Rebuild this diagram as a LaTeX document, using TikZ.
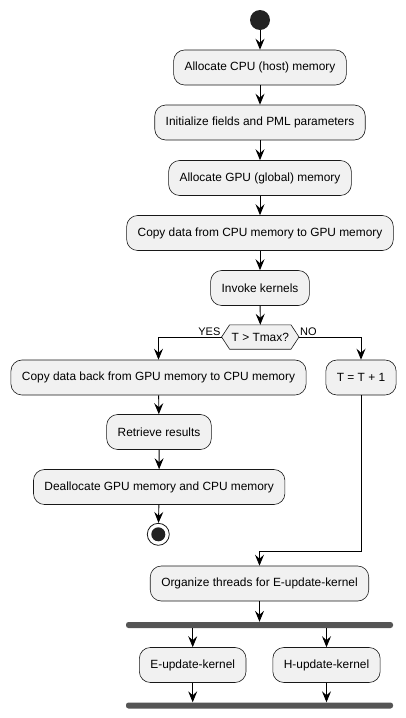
\documentclass[tikz,border=0pt]{standalone}
\usepackage{fontspec}
\setmainfont{Liberation Sans}
\usetikzlibrary{arrows.meta}
\definecolor{boxfill}{HTML}{F1F1F1}
\definecolor{boxline}{HTML}{181818}
\definecolor{barfill}{HTML}{555555}
\definecolor{dotfill}{HTML}{222222}
\begin{document}
\begin{tikzpicture}[x=1pt,y=-1pt,
  act/.style={draw=boxline,fill=boxfill,rounded corners=11pt,line width=0.6pt,
    minimum height=35pt,inner xsep=11pt,font=\fontsize{11.9}{14}\selectfont},
  dec/.style={minimum width=77pt,minimum height=24pt,inner sep=0pt,font=\fontsize{11.9}{14}\selectfont},
  hex/.style={draw=boxline,fill=boxfill,line width=0.6pt},
  lab/.style={font=\fontsize{11}{13}\selectfont,inner sep=1pt},
  bar/.style={fill=barfill,rounded corners=2.5pt,minimum height=6pt,inner sep=0pt},
  flow/.style={draw=black,line width=0.9pt,-{Stealth[length=11pt,width=9pt,inset=4pt]}},
  seg/.style={draw=black,line width=0.9pt}]
\useasboundingbox (0,0) rectangle (405,718);
\node[circle,fill=dotfill,minimum size=20pt,inner sep=0pt] (start) at (260,20) {};
\node[act] (b1) at (260,67.5) {Allocate CPU (host) memory};
\node[act] (b2) at (260,122.5) {Initialize fields and PML parameters};
\node[act] (b3) at (260,178) {Allocate GPU (global) memory};
\node[act] (b4) at (260,233) {Copy data from CPU memory to GPU memory};
\node[act] (b5) at (260,288) {Invoke kernels};
\node[dec] (d) at (260.3,337) {};
\path[hex] (d.west) -- ([xshift=8pt]d.north west) -- ([xshift=-8pt]d.north east) -- (d.east)
  -- ([xshift=-8pt]d.south east) -- ([xshift=8pt]d.south west) -- cycle;
\node[font=\fontsize{11.9}{14}\selectfont] (dt) at (d.center) {T > Tmax?};
\node[act] (b6) at (158.5,377.5) {Copy data back from GPU memory to CPU memory};
\node[act] (t) at (361,377.5) {T = T + 1};
\node[act] (b7) at (159,432) {Retrieve results};
\node[act] (b8) at (159.2,487) {Deallocate GPU memory and CPU memory};
\node[circle,draw=boxline,fill=white,line width=0.8pt,minimum size=22pt,inner sep=0pt] (endc) at (158.3,534.3) {};
\node[circle,fill=dotfill,minimum size=14pt,inner sep=0pt] (endd) at (endc) {};
\node[act] (b9) at (259.5,583.5) {Organize threads for E-update-kernel};
\node[bar,minimum width=267pt] (f1) at (259.5,625) {};
\node[act] (e) at (192.7,665) {E-update-kernel};
\node[act] (h) at (326.5,665) {H-update-kernel};
\node[bar,minimum width=267pt] (f2) at (259.5,705.5) {};
\node[lab,anchor=south east] (yes) at (d.west) {YES};
\node[lab,anchor=south west] (no) at (d.east) {NO};
\coordinate (yl) at (b6.north |- d.west);
\coordinate (nr) at (t.north |- d.east);
\coordinate (jr) at (t.south |- 0,551);
\coordinate (jl) at (b9.north |- 0,551);
\path[flow] (start) -- (b1);
\path[flow] (b1) -- (b2);
\path[flow] (b2) -- (b3);
\path[flow] (b3) -- (b4);
\path[flow] (b4) -- (b5);
\path[flow] (b5) -- (d.north);
\path[flow] (d.west) -- (yl) -- (b6.north);
\path[flow] (d.east) -- (nr) -- (t.north);
\path[flow] (b6) -- (b7);
\path[flow] (b7) -- (b8);
\path[flow] (b8) -- (endc);
\path[seg] (t.south) -- (jr) -- (jl);
\path[flow] (jl) -- (b9.north);
\path[flow] (b9) -- (b9.south |- f1.north);
\path[flow] (e.north |- f1.south) -- (e.north);
\path[flow] (h.north |- f1.south) -- (h.north);
\path[flow] (e.south) -- (e.south |- f2.north);
\path[flow] (h.south) -- (h.south |- f2.north);
\end{tikzpicture}
\end{document}
